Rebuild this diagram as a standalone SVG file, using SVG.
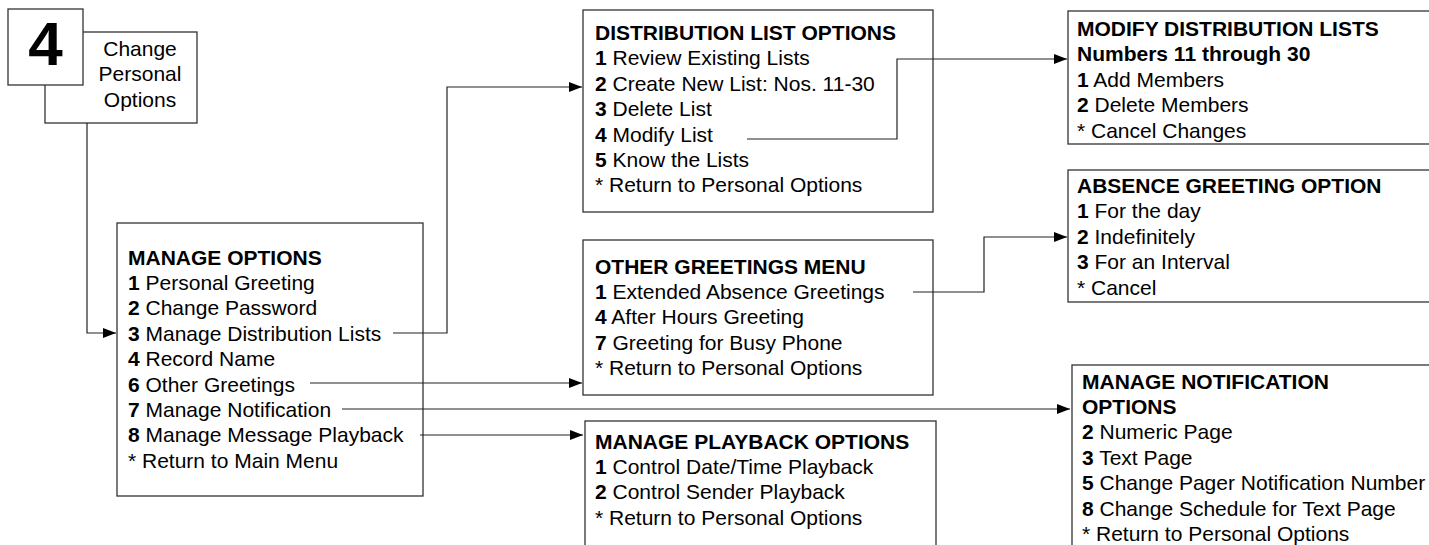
<svg xmlns="http://www.w3.org/2000/svg" width="1429" height="545" viewBox="0 0 1429 545">
<style>
.box{fill:#fff;stroke:#333;stroke-width:1.3}
.ln{fill:none;stroke:#222;stroke-width:1.2}
text{font-family:"Liberation Sans",Arial,sans-serif;font-size:21px;fill:#000}
.b{font-weight:bold}
</style>
<defs>
<marker id="ah" markerUnits="userSpaceOnUse" markerWidth="14" markerHeight="10" refX="13" refY="5" orient="auto">
<path d="M0,0 L13,5 L0,10 Z" fill="#000"/>
</marker>
</defs>
<rect width="1429" height="545" fill="#fff"/>
<g id="change-personal-options">
<rect class="box" x="45" y="32" width="152" height="91"/>
<rect class="box" x="8" y="9" width="75" height="76"/>
<text x="45.5" y="65" class="b" text-anchor="middle" style="font-size:62px">4</text>
<text x="140" y="56" text-anchor="middle">Change</text>
<text x="140" y="81" text-anchor="middle">Personal</text>
<text x="140" y="107" text-anchor="middle">Options</text>
</g>
<g id="manage-options">
<rect class="box" x="117" y="223" width="306" height="273"/>
<text x="128" y="264.5" class="b">MANAGE OPTIONS</text>
<text x="128" y="290"><tspan class="b">1</tspan> Personal Greeting</text>
<text x="128" y="315.4"><tspan class="b">2</tspan> Change Password</text>
<text x="128" y="340.8"><tspan class="b">3</tspan> Manage Distribution Lists</text>
<text x="128" y="366.2"><tspan class="b">4</tspan> Record Name</text>
<text x="128" y="391.6"><tspan class="b">6</tspan> Other Greetings</text>
<text x="128" y="417"><tspan class="b">7</tspan> Manage Notification</text>
<text x="128" y="442.4"><tspan class="b">8</tspan> Manage Message Playback</text>
<text x="128" y="467.8">* Return to Main Menu</text>
</g>
<g id="distribution-list-options">
<rect class="box" x="583" y="10" width="350" height="202"/>
<text x="595" y="40" class="b">DISTRIBUTION LIST OPTIONS</text>
<text x="595" y="65.4"><tspan class="b">1</tspan> Review Existing Lists</text>
<text x="595" y="90.8"><tspan class="b">2</tspan> Create New List: Nos. 11-30</text>
<text x="595" y="116.2"><tspan class="b">3</tspan> Delete List</text>
<text x="595" y="141.6"><tspan class="b">4</tspan> Modify List</text>
<text x="595" y="167"><tspan class="b">5</tspan> Know the Lists</text>
<text x="595" y="192.4">* Return to Personal Options</text>
</g>
<g id="modify-distribution-lists">
<rect class="box" x="1068" y="11" width="400" height="133"/>
<text x="1077" y="36" class="b">MODIFY DISTRIBUTION LISTS</text>
<text x="1077" y="61.4" class="b">Numbers 11 through 30</text>
<text x="1077" y="86.8"><tspan class="b">1</tspan> Add Members</text>
<text x="1077" y="112.2"><tspan class="b">2</tspan> Delete Members</text>
<text x="1077" y="137.6">* Cancel Changes</text>
</g>
<g id="absence-greeting-option">
<rect class="box" x="1068" y="170" width="400" height="132"/>
<text x="1077" y="193" class="b">ABSENCE GREETING OPTION</text>
<text x="1077" y="218.4"><tspan class="b">1</tspan> For the day</text>
<text x="1077" y="243.8"><tspan class="b">2</tspan> Indefinitely</text>
<text x="1077" y="269.2"><tspan class="b">3</tspan> For an Interval</text>
<text x="1077" y="294.6">* Cancel</text>
</g>
<g id="other-greetings-menu">
<rect class="box" x="583" y="240" width="350" height="155"/>
<text x="595" y="273.5" class="b">OTHER GREETINGS MENU</text>
<text x="595" y="298.9"><tspan class="b">1</tspan> Extended Absence Greetings</text>
<text x="595" y="324.3"><tspan class="b">4</tspan> After Hours Greeting</text>
<text x="595" y="349.7"><tspan class="b">7</tspan> Greeting for Busy Phone</text>
<text x="595" y="375.1">* Return to Personal Options</text>
</g>
<g id="manage-playback-options">
<rect class="box" x="585" y="421" width="351" height="200"/>
<text x="595" y="448.5" class="b">MANAGE PLAYBACK OPTIONS</text>
<text x="595" y="473.9"><tspan class="b">1</tspan> Control Date/Time Playback</text>
<text x="595" y="499.3"><tspan class="b">2</tspan> Control Sender Playback</text>
<text x="595" y="524.7">* Return to Personal Options</text>
</g>
<g id="manage-notification-options">
<rect class="box" x="1072" y="365" width="400" height="200"/>
<text x="1082" y="388.5" class="b">MANAGE NOTIFICATION</text>
<text x="1082" y="413.9" class="b">OPTIONS</text>
<text x="1082" y="439.3"><tspan class="b">2</tspan> Numeric Page</text>
<text x="1082" y="464.7"><tspan class="b">3</tspan> Text Page</text>
<text x="1082" y="490.1"><tspan class="b">5</tspan> Change Pager Notification Number</text>
<text x="1082" y="515.5"><tspan class="b">8</tspan> Change Schedule for Text Page</text>
<text x="1082" y="540.9">* Return to Personal Options</text>
</g>
<g id="connectors">
<path class="ln" d="M87,123 V333 H116" marker-end="url(#ah)"/>
<path class="ln" d="M393,333 H447 V87 H582" marker-end="url(#ah)"/>
<path class="ln" d="M747,139 H897 V59 H1067" marker-end="url(#ah)"/>
<path class="ln" d="M310,383 H582" marker-end="url(#ah)"/>
<path class="ln" d="M913,292 H984 V237 H1067" marker-end="url(#ah)"/>
<path class="ln" d="M342,409 H1070" marker-end="url(#ah)"/>
<path class="ln" d="M420,435 H583" marker-end="url(#ah)"/>
</g>
</svg>
